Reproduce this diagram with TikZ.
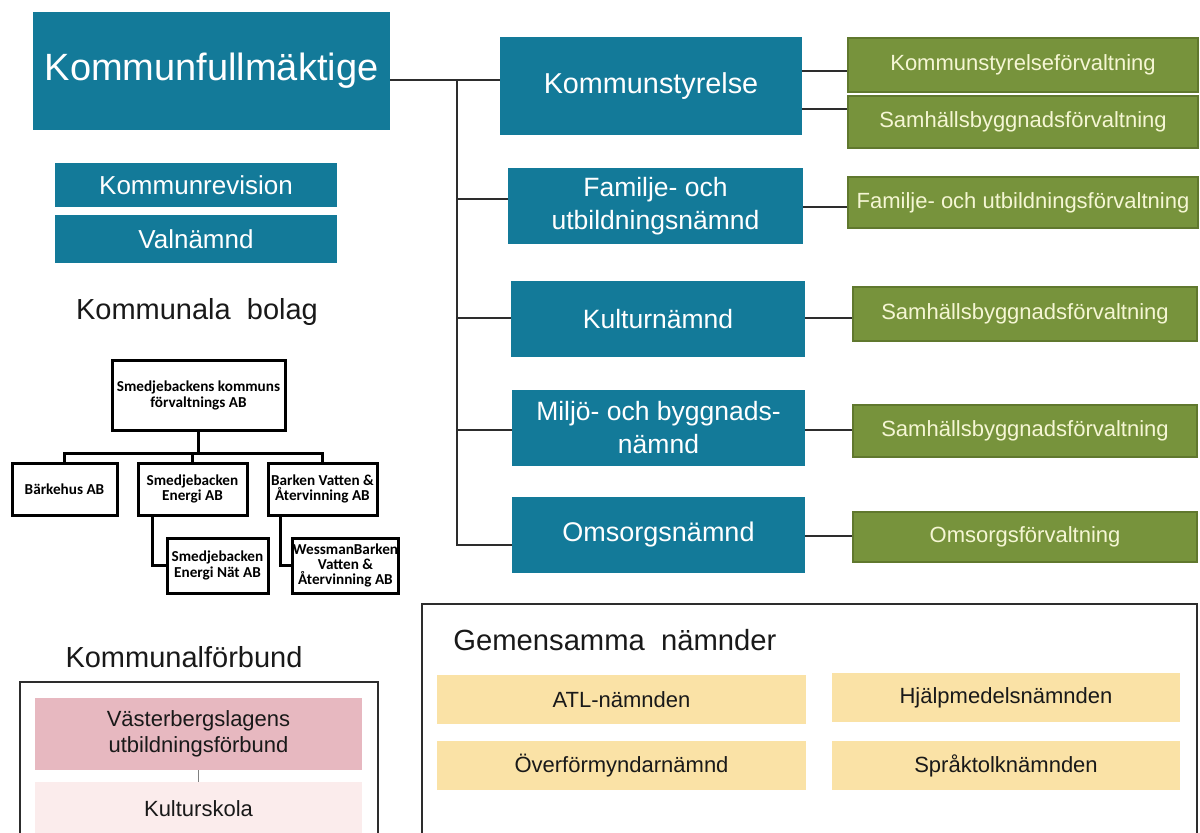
\documentclass[tikz,border=0pt]{standalone}
\usepackage{fontspec}
\setmainfont{Liberation Sans}
\newfontfamily\calib{Carlito}
\definecolor{kblue}{RGB}{19,122,153}
\definecolor{kgreen}{RGB}{119,147,60}
\definecolor{kgreenb}{RGB}{96,120,46}
\definecolor{kgtext}{RGB}{245,246,212}
\definecolor{kyellow}{RGB}{250,226,166}
\definecolor{kpink}{RGB}{231,184,192}
\definecolor{kpinkl}{RGB}{251,236,236}
\definecolor{kline}{RGB}{45,45,45}
\definecolor{ktext}{RGB}{25,25,25}
\begin{document}
\begin{tikzpicture}[x=0.5pt,y=-0.5pt,
  bluebox/.style={fill=kblue, text=white, inner sep=0pt, align=center},
  greenbox/.style={fill=kgreen, draw=kgreenb, line width=0.6pt, text=kgtext, inner sep=0pt,
    minimum width=#1, font=\fontsize{11pt}{13pt}\selectfont},
  yellowbox/.style={fill=kyellow, inner sep=0pt, text=ktext,
    minimum height=24.5pt, font=\fontsize{11pt}{13pt}\selectfont},
  heading/.style={text=ktext, inner sep=0pt, font=\fontsize{14.5pt}{17pt}\selectfont},
  orgbox/.style={draw=black, line width=1.5pt, fill=white, inner sep=0pt, align=center,
    font=\calib\bfseries\fontsize{7.6pt}{7.6pt}\selectfont},
  conn/.style={draw=kline, line width=1pt},
  orgline/.style={draw=black, line width=1.5pt},
  frame/.style={draw=kline, line width=0.8pt}
]
\useasboundingbox (0,0) rectangle (1200,832);
\clip (0,0) rectangle (1200,832);
\fill[white] (0,0) rectangle (1200,832);

% helper coordinates for connector heights
\coordinate (y80) at (0,80);
\coordinate (y71) at (0,71);
\coordinate (y109) at (0,109);
\coordinate (y199) at (0,199);
\coordinate (y207) at (0,207);
\coordinate (y318) at (0,318);
\coordinate (y430) at (0,430);
\coordinate (y536) at (0,536);
\coordinate (y545) at (0,545);
\coordinate (bar) at (0,453);
\coordinate (x152) at (152,0);
\coordinate (x280) at (280,0);

% left column
\node[bluebox, minimum width=178.5pt, minimum height=59pt, font=\fontsize{19pt}{22pt}\selectfont] (KF) at (211.5,71) {Kommunfullmäktige};
\node[bluebox, minimum width=141pt, minimum height=22pt, font=\fontsize{13pt}{15pt}\selectfont] (KR) at (196,185) {Kommunrevision};
\node[bluebox, minimum width=141pt, minimum height=24pt, font=\fontsize{13pt}{15pt}\selectfont] (VN) at (196,239) {Valnämnd};

% boards
\node[bluebox, minimum width=151pt, minimum height=49pt, font=\fontsize{14.4pt}{17pt}\selectfont] (KS) at (651,86) {Kommunstyrelse};
\node[bluebox, minimum width=147.5pt, minimum height=38pt, font=\fontsize{13.25pt}{16.5pt}\selectfont] (FU) at (655.5,206) {Familje- och\\utbildningsnämnd};
\node[bluebox, minimum width=147pt, minimum height=38pt, font=\fontsize{13.25pt}{16.5pt}\selectfont] (KU) at (658,319) {Kulturnämnd};
\node[bluebox, minimum width=146.5pt, minimum height=38pt, font=\fontsize{13.25pt}{16.5pt}\selectfont] (MB) at (658.5,428) {Miljö- och byggnads-\\nämnd};
\node[bluebox, minimum width=146.5pt, minimum height=38pt, font=\fontsize{13.5pt}{16.5pt}\selectfont] (OM) at (658.5,535) {Omsorgsnämnd};

% administrations
\node[greenbox=175pt, minimum height=27pt] (G1) at (1023,65) {Kommunstyrelseförvaltning};
\node[greenbox=175pt, minimum height=26pt] (G2) at (1023,122) {Samhällsbyggnadsförvaltning};
\node[greenbox=175pt, minimum height=25.5pt] (G3) at (1023,202.5) {Familje- och utbildningsförvaltning};
\node[greenbox=172pt, minimum height=27pt] (G4) at (1025,314) {Samhällsbyggnadsförvaltning};
\node[greenbox=172pt, minimum height=26pt] (G5) at (1025,431) {Samhällsbyggnadsförvaltning};
\node[greenbox=172pt, minimum height=25pt] (G6) at (1025,537) {Omsorgsförvaltning};

% main connectors
\coordinate (T) at (457,80);
\draw[conn] (KF.east |- y80) -- (KS.west |- y80);
\draw[conn] (T) -- (T |- y545) -- (OM.west |- y545);
\draw[conn] (T |- y199) -- (FU.west |- y199);
\draw[conn] (T |- y318) -- (KU.west |- y318);
\draw[conn] (T |- y430) -- (MB.west |- y430);
\draw[conn] (KS.east |- y71) -- (G1.west |- y71);
\draw[conn] (KS.east |- y109) -- (G2.west |- y109);
\draw[conn] (FU.east |- y207) -- (G3.west |- y207);
\draw[conn] (KU.east |- y318) -- (G4.west |- y318);
\draw[conn] (MB.east |- y430) -- (G5.west |- y430);
\draw[conn] (OM.east |- y536) -- (G6.west |- y536);

% Kommunala bolag
\node[heading] (HB) at (197,312) {Kommunala\ \ bolag};
\node[orgbox, minimum width=86.5pt, minimum height=35pt] (SK) at (198.5,395) {Smedjebackens kommuns\\[0.4pt]förvaltnings AB};
\node[orgbox, minimum width=52.5pt, minimum height=26pt] (BH) at (64.5,489) {Bärkehus AB};
\node[orgbox, minimum width=54.5pt, minimum height=26pt] (SE) at (192.5,489) {Smedjebacken\\Energi AB};
\node[orgbox, minimum width=54.5pt, minimum height=26pt] (BV) at (322.5,489) {Barken Vatten \&\\Återvinning AB};
\node[orgbox, minimum width=50.5pt, minimum height=27.5pt] (SN) at (217.5,565.5) {Smedjebacken\\Energi Nät AB};
\node[orgbox, minimum width=52.5pt, minimum height=27.5pt] (WB) at (345.5,565.5) {WessmanBarken\\Vatten \&\\Återvinning AB};
\draw[orgline] (SK.south) -- (SK.south |- bar);
\draw[orgline] (BH.north) -- (BH.north |- bar) -- (BV.north |- bar) -- (BV.north);
\draw[orgline] (SE.north) -- (SE.north |- bar);
\draw[orgline] (SE.south -| x152) |- (SN.west);
\draw[orgline] (BV.south -| x280) |- (WB.west);

% Kommunalförbund
\node[heading] (HF) at (184,657) {Kommunalförbund};
\node[frame, inner sep=0pt, minimum width=179pt, minimum height=84pt] (FB) at (199,766) {};
\node[fill=kpink, inner sep=0pt, text=ktext, align=center, minimum width=163.5pt, minimum height=36pt,
  font=\fontsize{11pt}{13pt}\selectfont] (VB) at (198.5,734) {Västerbergslagens\\utbildningsförbund};
\node[fill=kpinkl, inner sep=0pt, text=ktext, minimum width=163.5pt, minimum height=27pt,
  font=\fontsize{11pt}{13pt}\selectfont] (KSK) at (198.5,809) {Kulturskola};
\draw[draw=gray, line width=0.5pt] (VB.south) -- (KSK.north);

% Gemensamma nämnder
\node[frame, inner sep=0pt, minimum width=387.5pt, minimum height=123pt] (GB) at (809.5,727) {};
\node[heading, anchor=west, font=\fontsize{14.6pt}{17pt}\selectfont] (HG) at (453,640) {Gemensamma\ \ nämnder};
\node[yellowbox, minimum width=184.5pt] (ATL) at (621.5,699.5) {ATL-nämnden};
\node[yellowbox, minimum width=184.5pt] (OV) at (621.5,765.5) {Överförmyndarnämnd};
\node[yellowbox, minimum width=174pt] (HJ) at (1006,697.5) {Hjälpmedelsnämnden};
\node[yellowbox, minimum width=174pt] (SP) at (1006,765.5) {Språktolknämnden};
\end{tikzpicture}
\end{document}
